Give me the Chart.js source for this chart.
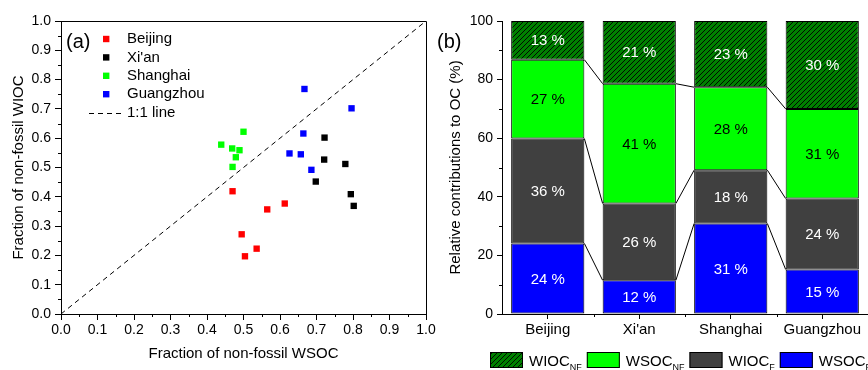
<!DOCTYPE html>
<html>
<head>
<meta charset="utf-8">
<script src="https://cdn.jsdelivr.net/npm/chart.js@4.4.1/dist/chart.umd.min.js"></script>
<style>
  html, body { margin: 0; padding: 0; background: #fff; }
  body { width: 868px; height: 370px; position: relative; overflow: hidden; }
  #ca { position: absolute; left: 0; top: 0; }
  #cb { position: absolute; left: 430px; top: 0; }
</style>
</head>
<body>
<canvas id="ca" width="440" height="370"></canvas>
<canvas id="cb" width="438" height="370"></canvas>
<script>
// ---------- data: panel (a) ----------
const beijingWSOC   = [0.470, 0.495, 0.504, 0.536, 0.565, 0.613];
const beijingWIOC   = [0.419, 0.272, 0.197, 0.223, 0.357, 0.377];
const xianWSOC      = [0.722, 0.721, 0.698, 0.779, 0.794, 0.802];
const xianWIOC      = [0.602, 0.527, 0.452, 0.512, 0.409, 0.369];
const shanghaiWSOC  = [0.439, 0.469, 0.489, 0.479, 0.470, 0.500];
const shanghaiWIOC  = [0.578, 0.565, 0.559, 0.535, 0.502, 0.622];
const guangzhouWSOC = [0.667, 0.796, 0.664, 0.626, 0.657, 0.686];
const guangzhouWIOC = [0.768, 0.702, 0.616, 0.548, 0.545, 0.492];
const oneToOneLine  = [0, 1];
const fractionTicks = [0, 0.1, 0.2, 0.3, 0.4, 0.5, 0.6, 0.7, 0.8, 0.9, 1.0];
const fractionMinor = [0.05, 0.15, 0.25, 0.35, 0.45, 0.55, 0.65, 0.75, 0.85, 0.95];

// ---------- data: panel (b) ----------
const cities  = ['Beijing', "Xi'an", 'Shanghai', 'Guangzhou'];
const wsocF   = [24.1, 11.5, 30.9, 15.2];
const wiocF   = [35.8, 26.2, 18.2, 24.2];
const wsocNF  = [26.9, 40.9, 28.3, 30.6];
const wiocNF  = [13.2, 21.4, 22.6, 30.0];
const percentTicks = [0, 20, 40, 60, 80, 100];
const percentMinor = [10, 30, 50, 70, 90];
const categoryBounds = [0.5, 1.5, 2.5];

Chart.defaults.font.family = '"Liberation Sans", Arial, Helvetica, sans-serif';
Chart.defaults.color = '#000';
Chart.defaults.animation = false;

const FONT = '"Liberation Sans", Arial, Helvetica, sans-serif';

// minor tick plugin (uses the chart's own scales)
const minorTicksPlugin = {
  id: 'minorTicks',
  afterDraw(chart, args, opts) {
    const ctx = chart.ctx;
    ctx.save();
    ctx.strokeStyle = '#000';
    ctx.lineWidth = 1;
    (opts.list || []).forEach(m => {
      const s = chart.scales[m.axis];
      m.values.forEach(v => {
        const p = Math.round(s.getPixelForValue(v)) + 0.5;
        ctx.beginPath();
        if (s.isHorizontal()) {
          ctx.moveTo(p, s.top); ctx.lineTo(p, s.top + m.len);
        } else {
          ctx.moveTo(s.right, p); ctx.lineTo(s.right - m.len, p);
        }
        ctx.stroke();
      });
    });
    ctx.restore();
  }
};

// ---------- panel (a) ----------
function toPoints(xs, ys) { return xs.map((x, i) => ({ x: x, y: ys[i] })); }

const frameAndLegendA = {
  id: 'frameLegendA',
  afterDraw(chart) {
    const ctx = chart.ctx, a = chart.chartArea;
    ctx.save();
    // top and right frame lines
    ctx.strokeStyle = '#000'; ctx.lineWidth = 1;
    ctx.beginPath();
    ctx.moveTo(a.left, Math.round(a.top) + 0.5);
    ctx.lineTo(a.right + 0.5, Math.round(a.top) + 0.5);
    ctx.lineTo(a.right + 0.5, a.bottom);
    ctx.stroke();
    // panel letter
    ctx.fillStyle = '#000';
    ctx.font = '20px ' + FONT;
    ctx.textBaseline = 'alphabetic';
    ctx.textAlign = 'left';
    ctx.fillText('(a)', a.left + 5, 47.5);
    // legend
    ctx.font = '15px ' + FONT;
    ctx.textBaseline = 'middle';
    chart.data.datasets.forEach((ds, i) => {
      const y = 39 + i * 18.4;
      if (ds.type === 'line') {
        ctx.strokeStyle = ds.borderColor;
        ctx.setLineDash(ds.borderDash);
        ctx.beginPath();
        ctx.moveTo(89, Math.round(y) + 0.5);
        ctx.lineTo(123, Math.round(y) + 0.5);
        ctx.stroke();
        ctx.setLineDash([]);
      } else {
        ctx.fillStyle = ds.backgroundColor;
        ctx.fillRect(103, y - 3.2, 6.4, 6.4);
      }
      ctx.fillStyle = '#000';
      ctx.fillText(ds.label, 127, y);
    });
    ctx.restore();
  }
};

const sq = { pointStyle: 'rect', pointRadius: 4.5, pointHoverRadius: 4.5, borderWidth: 0 };

new Chart(document.getElementById('ca'), {
  type: 'scatter',
  data: {
    datasets: [
      Object.assign({ label: 'Beijing',   data: toPoints(beijingWSOC, beijingWIOC),     backgroundColor: '#ff0000', borderColor: '#ff0000' }, sq),
      Object.assign({ label: "Xi'an",     data: toPoints(xianWSOC, xianWIOC),           backgroundColor: '#000000', borderColor: '#000000' }, sq),
      Object.assign({ label: 'Shanghai',  data: toPoints(shanghaiWSOC, shanghaiWIOC),   backgroundColor: '#00ff00', borderColor: '#00ff00' }, sq),
      Object.assign({ label: 'Guangzhou', data: toPoints(guangzhouWSOC, guangzhouWIOC), backgroundColor: '#0000ff', borderColor: '#0000ff' }, sq),
      { type: 'line', label: '1:1 line', data: toPoints(oneToOneLine, oneToOneLine),
        borderColor: '#000', borderWidth: 1, borderDash: [5, 4], pointRadius: 0, fill: false, order: 10 }
    ]
  },
  options: {
    responsive: false,
    layout: { padding: { top: 21, right: 14, left: 0, bottom: 0 } },
    plugins: {
      legend: { display: false },
      tooltip: { enabled: false },
      minorTicks: { list: [
        { axis: 'x', values: fractionMinor, len: 3 },
        { axis: 'y', values: fractionMinor, len: 3 }
      ] }
    },
    scales: {
      x: {
        type: 'linear', min: 0, max: 1,
        afterBuildTicks: s => { s.ticks = fractionTicks.map(v => ({ value: v })); },
        afterFit: s => { s.height = 56; },
        ticks: { font: { size: 14 }, padding: 2, maxRotation: 0, callback: v => Number(v).toFixed(1) },
        grid: { drawOnChartArea: false, drawTicks: true, tickLength: 6, color: '#000', tickColor: '#000' },
        border: { display: true, color: '#000', width: 1 },
        title: { display: true, text: 'Fraction of non-fossil WSOC', font: { size: 15 }, padding: { top: 0, bottom: 7 } }
      },
      y: {
        type: 'linear', min: 0, max: 1,
        afterBuildTicks: s => { s.ticks = fractionTicks.map(v => ({ value: v })); },
        afterFit: s => { s.width = 61; },
        ticks: { font: { size: 14 }, padding: 4, callback: v => Number(v).toFixed(1) },
        grid: { drawOnChartArea: false, drawTicks: true, tickLength: 6, color: '#000', tickColor: '#000' },
        border: { display: true, color: '#000', width: 1 },
        title: { display: true, text: 'Fraction of non-fossil WIOC', font: { size: 15 }, padding: { top: 10, bottom: 0 } }
      }
    }
  },
  plugins: [minorTicksPlugin, frameAndLegendA]
});

// ---------- panel (b) ----------
function makeHatch() {
  const s = 5;
  const c = document.createElement('canvas');
  c.width = s; c.height = s;
  const g = c.getContext('2d');
  g.fillStyle = '#008000';
  g.fillRect(0, 0, s, s);
  g.strokeStyle = '#000';
  g.lineWidth = 0.9;
  g.beginPath();
  g.moveTo(-1, s + 1); g.lineTo(s + 1, -1);
  g.moveTo(-1, 1); g.lineTo(1, -1);
  g.moveTo(s - 1, s + 1); g.lineTo(s + 1, s - 1);
  g.stroke();
  return g.createPattern(c, 'repeat');
}
const hatchFill = makeHatch();

const legendMain = ['WIOC', 'WSOC', 'WIOC', 'WSOC'];
const legendSub  = ['NF', 'NF', 'F', 'F'];

const barExtras = {
  id: 'barExtras',
  afterDatasetsDraw(chart) {
    const ctx = chart.ctx;
    ctx.save();
    // connecting lines between stacks
    ctx.strokeStyle = '#000'; ctx.lineWidth = 1;
    for (let d = 0; d < 3; d++) {
      const meta = chart.getDatasetMeta(d);
      for (let i = 0; i < meta.data.length - 1; i++) {
        const a = meta.data[i], b = meta.data[i + 1];
        ctx.beginPath();
        ctx.moveTo(a.x + a.width / 2, a.y);
        ctx.lineTo(b.x - b.width / 2, b.y);
        ctx.stroke();
      }
    }
    // percentage labels
    ctx.font = '15px ' + FONT;
    ctx.textAlign = 'center';
    ctx.textBaseline = 'middle';
    chart.data.datasets.forEach((ds, d) => {
      const meta = chart.getDatasetMeta(d);
      meta.data.forEach((el, i) => {
        ctx.fillStyle = ds.labelColor;
        ctx.fillText(Math.round(ds.data[i]) + ' %', el.x, (el.y + el.base) / 2 + 1);
      });
    });
    ctx.restore();
  },
  afterDraw(chart) {
    const ctx = chart.ctx;
    ctx.save();
    // panel letter
    ctx.fillStyle = '#000';
    ctx.font = '20px ' + FONT;
    ctx.textBaseline = 'alphabetic';
    ctx.textAlign = 'left';
    ctx.fillText('(b)', 7, 47.5);
    // bottom legend with subscripts
    const order = [3, 2, 1, 0];
    let x = 60;
    const boxTop = 352, bw = 33, bh = 16, base = 366;
    order.forEach((d, k) => {
      const ds = chart.data.datasets[d];
      ctx.fillStyle = ds.backgroundColor;
      ctx.fillRect(x, boxTop, bw, bh);
      ctx.strokeStyle = '#000'; ctx.lineWidth = 1;
      ctx.strokeRect(x + 0.5, boxTop + 0.5, bw - 1, bh - 1);
      x += bw + 6;
      ctx.fillStyle = '#000';
      ctx.font = '15px ' + FONT;
      ctx.fillText(legendMain[k], x, base);
      x += ctx.measureText(legendMain[k]).width;
      ctx.font = '9px ' + FONT;
      ctx.fillText(legendSub[k], x, base + 4);
      x += ctx.measureText(legendSub[k]).width + 5;
    });
    ctx.restore();
  }
};

const barBase = { borderColor: '#000', borderWidth: 1, borderSkipped: false, barPercentage: 0.8, categoryPercentage: 1.0 };

new Chart(document.getElementById('cb'), {
  type: 'bar',
  data: {
    labels: cities,
    datasets: [
      Object.assign({ label: 'WSOC_F',  data: wsocF,  backgroundColor: '#0000ff', labelColor: '#ffffff' }, barBase),
      Object.assign({ label: 'WIOC_F',  data: wiocF,  backgroundColor: '#404040', labelColor: '#ffffff' }, barBase),
      Object.assign({ label: 'WSOC_NF', data: wsocNF, backgroundColor: '#00ff00', labelColor: '#000000' }, barBase),
      Object.assign({ label: 'WIOC_NF', data: wiocNF, backgroundColor: hatchFill, labelColor: '#ffffff' }, barBase)
    ]
  },
  options: {
    responsive: false,
    layout: { padding: { top: 21, right: 0, left: 0, bottom: 0 } },
    plugins: {
      legend: { display: false },
      tooltip: { enabled: false },
      minorTicks: { list: [
        { axis: 'x', values: categoryBounds, len: 3 },
        { axis: 'y', values: percentMinor, len: 3 }
      ] }
    },
    scales: {
      x: {
        stacked: true,
        afterFit: s => { s.height = 56; },
        ticks: { font: { size: 15 }, padding: 2, maxRotation: 0 },
        grid: { offset: false, drawOnChartArea: false, drawTicks: true, tickLength: 5, color: '#000', tickColor: '#000' },
        border: { display: true, color: '#000', width: 1 }
      },
      y: {
        stacked: true, min: 0, max: 100,
        afterBuildTicks: s => { s.ticks = percentTicks.map(v => ({ value: v })); },
        afterFit: s => { s.width = 72; },
        ticks: { font: { size: 14 }, padding: 4 },
        grid: { drawOnChartArea: false, drawTicks: true, tickLength: 5, color: '#000', tickColor: '#000' },
        border: { display: true, color: '#000', width: 1 },
        title: { display: true, text: 'Relative contributions to OC (%)', font: { size: 15 }, padding: { top: 17, bottom: 0 } }
      }
    }
  },
  plugins: [minorTicksPlugin, barExtras]
});
</script>
</body>
</html>
